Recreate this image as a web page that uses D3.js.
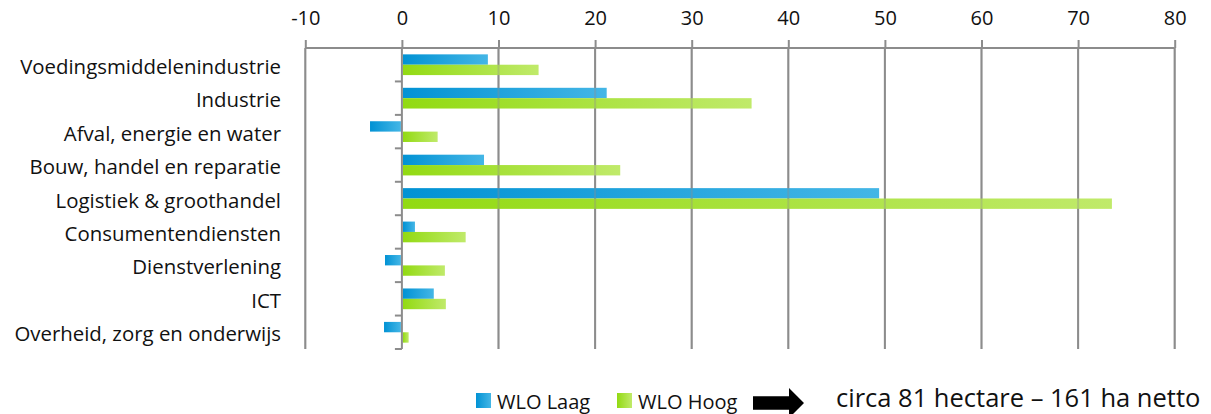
<!DOCTYPE html>
<html>
<head>
<meta charset="utf-8">
<script src="https://cdn.jsdelivr.net/npm/d3@7"></script>
<style>
  html, body { margin: 0; padding: 0; background: #fff; }
  svg { display: block; }
  text { font-family: "Open Sans", "Noto Sans", sans-serif; fill: #111; }
</style>
</head>
<body>
<svg id="chart" width="1211" height="414"></svg>
<script>
// Sectors (top to bottom)
const categories = [
  "Voedingsmiddelenindustrie",
  "Industrie",
  "Afval, energie en water",
  "Bouw, handel en reparatie",
  "Logistiek & groothandel",
  "Consumentendiensten",
  "Dienstverlening",
  "ICT",
  "Overheid, zorg en onderwijs"
];
// Series names
const seriesNames = ["WLO Laag", "WLO Hoog"];
// Demand per sector (hectare)
const wloLaag = [8.9, 21.2, -3.3, 8.5, 49.4, 1.35, -1.75, 3.3, -1.85];
const wloHoog = [14.15, 36.2, 3.7, 22.6, 73.5, 6.6, 4.45, 4.55, 0.7];
// Value axis ticks
const xTicks = [-10, 0, 10, 20, 30, 40, 50, 60, 70, 80];
const xTickLabels = ["-10", "0", "10", "20", "30", "40", "50", "60", "70", "80"];
const note = "circa 81 hectare \u2013 161 ha netto";

const rows = categories.map((c, i) => ({ cat: c, values: [wloLaag[i], wloHoog[i]] }));

const svg = d3.select("#chart");
const plot = { left: 305.3, right: 1174.7, top: 48, bottom: 349 };

const x = d3.scaleLinear().domain([-10, 80]).range([plot.left, plot.right]);
const y = d3.scaleBand().domain(categories).range([plot.top, plot.bottom])
  .paddingInner(0.38).paddingOuter(0.19);
const ySub = d3.scaleBand().domain(seriesNames).range([0, y.bandwidth()]);

// gradients: dark on the left, light on the right
const defs = svg.append("defs");
const palette = [
  { id: "gBlue", from: "#0192d4", to: "#44b6e6" },
  { id: "gGreen", from: "#92da12", to: "#c0ea6a" }
];
palette.forEach(p => {
  const g = defs.append("linearGradient").attr("id", p.id)
    .attr("x1", "0%").attr("x2", "100%").attr("y1", "0%").attr("y2", "0%");
  g.append("stop").attr("offset", "0%").attr("stop-color", p.from);
  g.append("stop").attr("offset", "100%").attr("stop-color", p.to);
});
const fillFor = i => `url(#${palette[i].id})`;

const gridColor = "#8c8c8c";
const gridTicks = xTicks.filter(t => t !== 0);

// vertical gridlines
svg.append("g").selectAll("line").data(gridTicks).join("line")
  .attr("x1", d => x(d)).attr("x2", d => x(d))
  .attr("y1", plot.top).attr("y2", plot.bottom)
  .attr("stroke", gridColor).attr("stroke-width", 2);

// bars
const groups = svg.append("g").selectAll("g").data(rows).join("g")
  .attr("transform", d => `translate(0,${y(d.cat)})`);
groups.selectAll("rect").data(d => d.values.map((v, i) => ({ v, i }))).join("rect")
  .attr("x", d => d.v >= 0 ? x(0) + 1 : x(d.v))
  .attr("width", d => Math.max(0, Math.abs(x(d.v) - x(0)) - 1))
  .attr("y", d => ySub(seriesNames[d.i]))
  .attr("height", ySub.bandwidth())
  .attr("fill", d => fillFor(d.i));

// gridlines faintly visible through the bars
svg.append("g").selectAll("line").data(gridTicks).join("line")
  .attr("x1", d => x(d)).attr("x2", d => x(d))
  .attr("y1", plot.top).attr("y2", plot.bottom)
  .attr("stroke", gridColor).attr("stroke-width", 2).attr("stroke-opacity", 0.35);

// top value axis
const xAxis = svg.append("g").attr("transform", `translate(0,${plot.top})`)
  .call(d3.axisTop(x).tickValues(xTicks).tickSize(8).tickPadding(15)
    .tickFormat((d, i) => xTickLabels[i]));
xAxis.select(".domain").attr("stroke", gridColor).attr("stroke-width", 2)
  .attr("d", `M${plot.left},0H${plot.right}`);
xAxis.selectAll(".tick line").attr("stroke", gridColor).attr("stroke-width", 2);
xAxis.selectAll(".tick text").attr("font-size", 20).attr("fill", "#111")
  .attr("font-family", "\"Open Sans\", sans-serif");

// category axis on the zero line
const yAxis = svg.append("g").attr("transform", `translate(${x(0)},0)`);
yAxis.append("line").attr("x1", 0).attr("x2", 0).attr("y1", plot.top).attr("y2", plot.bottom)
  .attr("stroke", gridColor).attr("stroke-width", 2);
const bounds = categories.map(c => y(c) - y.step() * y.paddingInner() / 2).concat([plot.bottom]);
yAxis.selectAll("line.tk").data(bounds).join("line").attr("class", "tk")
  .attr("x1", -7).attr("x2", 0).attr("y1", d => d).attr("y2", d => d)
  .attr("stroke", gridColor).attr("stroke-width", 2);

// category labels
svg.append("g").selectAll("text").data(categories).join("text")
  .attr("x", 281).attr("y", d => y(d) + y.bandwidth() / 2 + 1)
  .attr("text-anchor", "end").attr("dominant-baseline", "central")
  .attr("font-size", 20.4).text(d => d);

// legend
const legY = 400.5;
const leg = svg.append("g");
const legX = [476, 617];
seriesNames.forEach((s, i) => {
  leg.append("rect").attr("x", legX[i]).attr("y", legY - 7.5).attr("width", 15).attr("height", 15)
    .attr("fill", fillFor(i));
  leg.append("text").attr("x", legX[i] + 21).attr("y", legY + 1)
    .attr("dominant-baseline", "central").attr("font-size", 20).text(s);
});

// arrow pointing to the total
const ay = 403;
leg.append("path")
  .attr("d", d3.line()([[753, ay - 6.7], [789, ay - 6.7], [789, ay - 15], [804, ay],
    [789, ay + 15], [789, ay + 6.7], [753, ay + 6.7]]) + "Z")
  .attr("fill", "#000");

svg.append("text").attr("x", 836).attr("y", 406.5)
  .attr("font-size", 25.5).text(note);
</script>
</body>
</html>
